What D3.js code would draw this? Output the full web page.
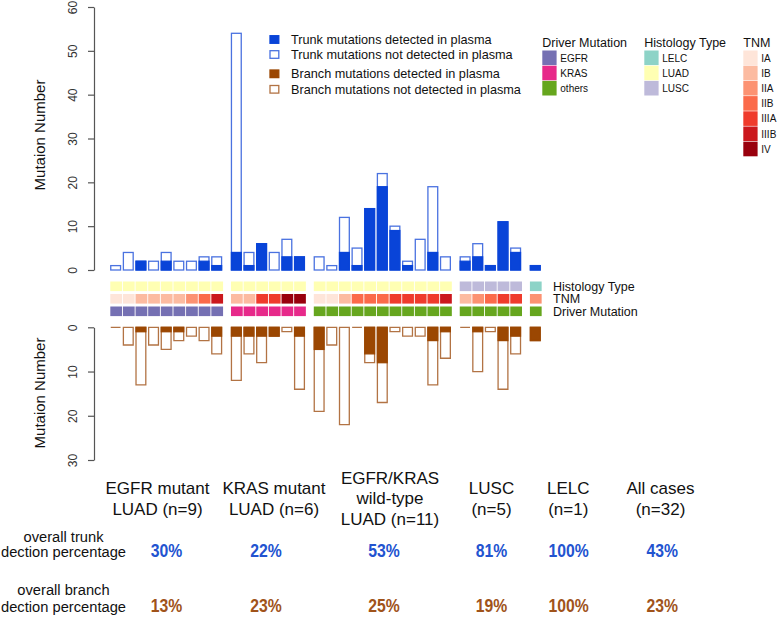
<!DOCTYPE html>
<html>
<head>
<meta charset="utf-8">
<script src="https://cdn.jsdelivr.net/npm/d3@7"></script>
<style>
  html, body { margin: 0; padding: 0; background: #fff; }
  svg { display: block; font-family: "Liberation Sans", Arial, Helvetica, sans-serif; }
</style>
</head>
<body>
<svg id="chart" width="778" height="618"></svg>
<script>
// ---------------- DATA ----------------
const groupNames = [
  ["EGFR mutant", "LUAD (n=9)"],
  ["KRAS mutant", "LUAD (n=6)"],
  ["EGFR/KRAS", "wild-type", "LUAD (n=11)"],
  ["LUSC", "(n=5)"],
  ["LELC", "(n=1)"],
  ["All cases", "(n=32)"]
];
const caseGroup = [0,0,0,0,0,0,0,0,0, 1,1,1,1,1,1, 2,2,2,2,2,2,2,2,2,2,2, 3,3,3,3,3, 4];
const trunkTotal    = [1,4,2,2,4,2,2,3,3, 54,4,6,4,7,3, 3,1,12,5,14,22,10,2,7,19,3, 3,6,1,11,5, 1];
const trunkDetected = [0,0,2,0,2,0,0,2,1, 4,1,6,0,3,3, 0,0,4,1,14,19,9,1,0,4,0, 2,3,1,11,4, 1];
const branchTotal    = [0,4,13,4,5,3,2,3,6, 12,6,8,2,1,14, 19,4,22,0,8,17,1,2,2,13,7, 0,10,1,14,6, 3];
const branchDetected = [0,0,1,0,1,1,0,0,2, 2,2,2,2,0,2, 5,0,0,0,6,8,0,0,0,3,1, 0,1,0,3,2, 3];
const histology = ["LUAD","LUAD","LUAD","LUAD","LUAD","LUAD","LUAD","LUAD","LUAD",
  "LUAD","LUAD","LUAD","LUAD","LUAD","LUAD",
  "LUAD","LUAD","LUAD","LUAD","LUAD","LUAD","LUAD","LUAD","LUAD","LUAD","LUAD",
  "LUSC","LUSC","LUSC","LUSC","LUSC", "LELC"];
const tnm = ["IA","IA","IB","IB","IB","IB","IIA","IIB","IIIB",
  "IB","IB","IIIA","IIIA","IV","IV",
  "IA","IA","IB","IIB","IIB","IIB","IIIA","IIIA","IIIA","IIIA","IIIB",
  "IB","IIA","IIB","IIIA","IIIA", "IIA"];
const driver = ["EGFR","EGFR","EGFR","EGFR","EGFR","EGFR","EGFR","EGFR","EGFR",
  "KRAS","KRAS","KRAS","KRAS","KRAS","KRAS",
  "others","others","others","others","others","others","others","others","others","others","others",
  "others","others","others","others","others", "others"];
const trunkPct  = ["30%","22%","53%","81%","100%","43%"];
const branchPct = ["13%","23%","25%","19%","100%","23%"];
const topTicks = [0,10,20,30,40,50,60];
const bottomTicks = [0,10,20,30];
const driverLevels = ["EGFR","KRAS","others"];
const histLevels = ["LELC","LUAD","LUSC"];
const tnmLevels = ["IA","IB","IIA","IIB","IIIA","IIIB","IV"];
const legendLabels = ["Trunk mutations detected in plasma","Trunk mutations not detected in plasma",
  "Branch mutations detected in plasma","Branch mutations not detected in plasma"];

// ---------------- STYLE / LAYOUT ----------------
const blueFill = "#0944d8", blueLine = "#4a72e0";
const brownFill = "#9b4702", brownLine = "#b27344";
const driverColor = d3.scaleOrdinal(driverLevels, ["#7570B3","#E7298A","#66A61E"]);
const histColor = d3.scaleOrdinal(histLevels, ["#8DD3C7","#FFFFB3","#BEBADA"]);
const tnmColor = d3.scaleOrdinal(tnmLevels, ["#FEE5D9","#FCBBA1","#FC9272","#FB6A4A","#EF3B2C","#CB181D","#99000D"]);
const axisColor = "#555";

const svg = d3.select("#chart");
const yTop = d3.scaleLinear().domain([0, 60]).range([270, 7]);
const yBot = d3.scaleLinear().domain([0, 30]).range([327.3, 460]);
const xs = d3.scaleLinear().domain([0, 1]).range([110.1, 122.73]);
const groupGap = 0.556;
const slot = i => xs(i + caseGroup[i] * groupGap);
const barW = 9.8, strokeW = 1.3;
const idx = d3.range(trunkTotal.length);

// ---------------- AXES ----------------
function drawAxis(scale, ticks, label, labelY) {
  const g = svg.append("g").attr("transform", "translate(94,0)")
    .call(d3.axisLeft(scale).tickValues(ticks).tickSize(6).tickSizeOuter(0).tickFormat(d3.format("d")));
  g.select(".domain").attr("stroke", axisColor).attr("stroke-width", 1.2);
  g.selectAll(".tick line").attr("stroke", axisColor).attr("stroke-width", 1.2);
  g.selectAll(".tick text")
    .attr("transform", "rotate(-90)")
    .attr("x", 0).attr("y", -17).attr("dy", 0)
    .attr("text-anchor", "middle")
    .attr("fill", "#333")
    .style("font-size", "12px")
    .style("font-family", "'Liberation Sans', Arial, sans-serif");
  svg.append("text")
    .attr("transform", `translate(45,${labelY}) rotate(-90)`)
    .attr("text-anchor", "middle")
    .style("font-size", "15px").attr("fill", "#111")
    .text(label);
}
drawAxis(yTop, topTicks, "Mutaion Number", 135);
drawAxis(yBot, bottomTicks, "Mutaion Number", 393);

// ---------------- TRUNK BARS ----------------
const trunkG = svg.append("g");
trunkG.selectAll("rect.tot").data(idx).join("rect")
  .attr("x", i => slot(i) + strokeW / 2)
  .attr("y", i => yTop(trunkTotal[i]))
  .attr("width", barW)
  .attr("height", i => yTop(0) - yTop(trunkTotal[i]))
  .attr("fill", "#fff").attr("stroke", blueLine).attr("stroke-width", strokeW);
trunkG.selectAll("rect.det").data(idx.filter(i => trunkDetected[i] > 0)).join("rect")
  .attr("x", i => slot(i) + strokeW / 2)
  .attr("y", i => yTop(trunkDetected[i]))
  .attr("width", barW)
  .attr("height", i => yTop(0) - yTop(trunkDetected[i]))
  .attr("fill", blueFill).attr("stroke", blueFill).attr("stroke-width", strokeW);

// ---------------- BRANCH BARS ----------------
const branchG = svg.append("g");
branchG.selectAll("path.tot").data(idx).join("path")
  .attr("d", i => {
    const x = slot(i) + strokeW / 2, y0 = yBot(0), h = yBot(branchTotal[i]) - yBot(0);
    return `M${x},${y0}h${barW}v${h}h${-barW}Z`;
  })
  .attr("fill", "#fff").attr("stroke", brownLine).attr("stroke-width", strokeW);
branchG.selectAll("rect.det").data(idx.filter(i => branchDetected[i] > 0)).join("rect")
  .attr("x", i => slot(i) + strokeW / 2)
  .attr("y", yBot(0))
  .attr("width", barW)
  .attr("height", i => yBot(branchDetected[i]) - yBot(0))
  .attr("fill", brownFill).attr("stroke", brownFill).attr("stroke-width", strokeW);

// ---------------- ANNOTATION STRIPS ----------------
const strips = [
  {name: "Histology Type", values: histology, color: histColor, y: 281.5},
  {name: "TNM", values: tnm, color: tnmColor, y: 294},
  {name: "Driver Mutation", values: driver, color: driverColor, y: 306.5}
];
const cellW = xs(1) - xs(0) - 0.9, cellH = 9.6;
strips.forEach(s => {
  svg.append("g").selectAll("rect").data(idx).join("rect")
    .attr("x", i => slot(i) + 0.2)
    .attr("y", s.y)
    .attr("width", cellW)
    .attr("height", cellH)
    .attr("fill", i => s.color(s.values[i]));
  svg.append("text").attr("x", 553).attr("y", s.y + cellH / 2 + 4.4)
    .style("font-size", "12.5px").attr("fill", "#111").text(s.name);
});

// ---------------- TOP LEGEND ----------------
const legY = [35.7, 50.7, 70, 85.5];
const legStyle = [
  {fill: blueFill, stroke: blueFill}, {fill: "#fff", stroke: blueLine},
  {fill: brownFill, stroke: brownFill}, {fill: "#fff", stroke: brownLine}
];
legendLabels.forEach((t, k) => {
  svg.append("rect").attr("x", 270).attr("y", legY[k]).attr("width", 8.8).attr("height", 7.6)
    .attr("fill", legStyle[k].fill).attr("stroke", legStyle[k].stroke).attr("stroke-width", 1.3);
  svg.append("text").attr("x", 291).attr("y", legY[k] + 8.3)
    .style("font-size", "12.7px").attr("fill", "#111").text(t);
});

// ---------------- RIGHT LEGENDS ----------------
function catLegend(title, levels, color, x) {
  const g = svg.append("g");
  g.append("text").attr("x", x).attr("y", 46.7).style("font-size", "12.5px").attr("fill", "#111").text(title);
  levels.forEach((lv, k) => {
    g.append("rect").attr("x", x).attr("y", 50.5 + k * 15.2).attr("width", 14.3).attr("height", 14.6)
      .attr("fill", color(lv));
    g.append("text").attr("x", x + 18).attr("y", 50.5 + k * 15.2 + 11)
      .style("font-size", "10px").attr("fill", "#111").text(lv);
  });
}
catLegend("Driver Mutation", driverLevels, driverColor, 542.3);
catLegend("Histology Type", histLevels, histColor, 644.3);
catLegend("TNM", tnmLevels, tnmColor, 743.3);

// ---------------- BOTTOM TABLE ----------------
const colX = [157.5, 274, 390, 491.5, 568.3, 660.5];
const pctX = [166.5, 266, 384, 491.6, 568.7, 662.3];
function pctText(x, y, txt, color) {
  svg.append("text").attr("transform", `translate(${x},${y}) scale(0.9,1)`)
    .attr("text-anchor", "middle").style("font-size", "17.5px").style("font-weight", "bold")
    .attr("fill", color).text(txt);
}
groupNames.forEach((lines, k) => {
  const base = lines.length === 3 ? 483.5 : 494;
  lines.forEach((ln, j) => {
    svg.append("text").attr("x", colX[k]).attr("y", base + j * 20.5)
      .attr("text-anchor", "middle").style("font-size", "17px").attr("fill", "#111").text(ln);
  });
  pctText(pctX[k], 556.7, trunkPct[k], "#2253d0");
  pctText(pctX[k], 611.7, branchPct[k], "#a0531a");
});
[["overall trunk", 541.7], ["dection percentage", 557], ["overall branch", 595], ["dection percentage", 611.7]]
  .forEach(([t, y]) => {
    svg.append("text").attr("x", 63.5).attr("y", y).attr("text-anchor", "middle")
      .style("font-size", "14.7px").attr("fill", "#111").text(t);
  });
</script>
</body>
</html>
